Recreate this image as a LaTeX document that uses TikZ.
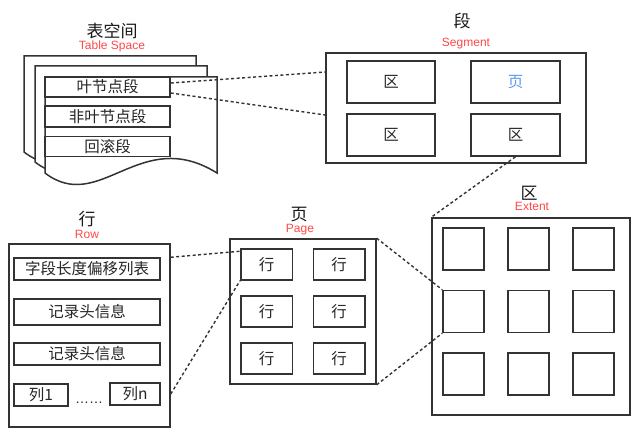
\documentclass[tikz,border=0pt]{standalone}
\usepackage{fontspec}
\setmainfont{Liberation Sans}
\newfontfamily\cjk{Noto Sans CJK SC}
\usetikzlibrary{calc}
\definecolor{lc}{RGB}{51,51,51}
\definecolor{redt}{RGB}{255,72,72}
\definecolor{bluet}{RGB}{91,155,240}
\begin{document}
\begin{tikzpicture}[x=1pt,y=-1pt,
  bx/.style={draw=lc, line width=1.5pt, fill=white, inner sep=0pt, font=\cjk\fontsize{15.5}{15.5}\selectfont, text=black!85},
  ttl/.style={font=\cjk\fontsize{17}{17}\selectfont, inner sep=0pt, text=black!90, text height=12pt, text depth=0pt},
  sub/.style={font=\fontsize{12}{12}\selectfont, text=redt, inner sep=0pt, text height=9pt, text depth=2pt},
  dl/.style={draw=lc, line width=1.4pt, dash pattern=on 3pt off 2.5pt},
  sheet/.style={draw=lc, line width=1.5pt, fill=white}]
\useasboundingbox[fill=white] (0,0) rectangle (640,436);

% ---------- Table space ----------
\foreach \dx/\dy in {-21/-21, -10/-11, 0/0}
  \draw[sheet, shift={(\dx,\dy)}] (45,77) -- (217,77) -- (217,173)
    .. controls (140,125) and (100,215) .. (45,173) -- cycle;
\node[ttl] (tsT) at (112,32) {表空间};
\node[sub] (tsS) at (112,46) {Table Space};
\node[bx, minimum width=125pt, minimum height=20pt] (ts1) at (107.5,87) {叶节点段};
\node[bx, minimum width=125pt, minimum height=21pt] (ts2) at (107.5,116.5) {非叶节点段};
\node[bx, minimum width=125pt, minimum height=20pt] (ts3) at (107.5,146.5) {回滚段};

% ---------- Segment ----------
\node[ttl] (segT) at (462,22) {段};
\node[sub] (segS) at (466,43) {Segment};
\node[bx, minimum width=260pt, minimum height=110pt] (seg) at (456,108) {};
\node[bx, minimum width=88pt, minimum height=42pt] (s11) at (391,82) {区};
\node[bx, minimum width=89pt, minimum height=42pt, text=bluet] (s12) at (515.5,82) {页};
\node[bx, minimum width=88pt, minimum height=42pt] (s21) at (391,135) {区};
\node[bx, minimum width=89pt, minimum height=42pt] (s22) at (515.5,135) {区};

% ---------- Extent ----------
\node[ttl] (extT) at (529,193) {区};
\node[sub] (extS) at (532,207) {Extent};
\node[bx, minimum width=198pt, minimum height=197pt] (ext) at (531,316.5) {};
\foreach \c/\x in {1/463.5, 2/528.5, 3/593.5}
  \foreach \r/\y in {1/249, 2/311.5, 3/374}
    \node[bx, minimum width=41pt, minimum height=42pt] (e\r\c) at (\x,\y) {};

% ---------- Page ----------
\node[ttl] (pgT) at (299,214) {页};
\node[sub] (pgS) at (300,229) {Page};
\node[bx, minimum width=146pt, minimum height=145pt] (page) at (303,311.5) {};
\foreach \c/\x in {1/266.5, 2/339}
  \foreach \r/\y in {1/264.5, 2/311.5, 3/358.5}
    \node[bx, minimum width=51.5pt, minimum height=31pt] (p\r\c) at (\x,\y) {行};

% ---------- Row ----------
\node[ttl] (rowT) at (87,219) {行};
\node[sub] (rowS) at (87,235) {Row};
\node[bx, minimum width=161pt, minimum height=183pt] (row) at (89.5,335.5) {};
\node[bx, minimum width=146pt, minimum height=22pt] (r1) at (87,269) {字段长度偏移列表};
\node[bx, minimum width=146pt, minimum height=26pt] (r2) at (87,312) {记录头信息};
\node[bx, minimum width=146pt, minimum height=22pt] (r3) at (87,354) {记录头信息};
\node[bx, minimum width=54pt, minimum height=22pt] (r4) at (41,395) {列1};
\node[bx, minimum width=50pt, minimum height=22pt] (r5) at (135,394) {列n};
\node[inner sep=0pt, font=\fontsize{14}{14}\selectfont, text=black!85, anchor=base] (dots) at (89,403) {……};

% ---------- connectors ----------
\draw[dl] ($(ts1.east)+(0,-4)$) -- ($(seg.west)+(0,-36)$);
\draw[dl] ($(ts1.east)+(0,6)$) -- ($(seg.west)+(0,7)$);
\draw[dl] (s22.south) -- (ext.north west);
\draw[dl] (page.north east) -- (e21.north west);
\draw[dl] (page.south east) -- (e21.south west);
\draw[dl] (r1.north -| row.east) -- ($(p11.north west)+(0,3)$);
\draw[dl] (r5.center -| row.east) -- (p11.south west);
\end{tikzpicture}
\end{document}
